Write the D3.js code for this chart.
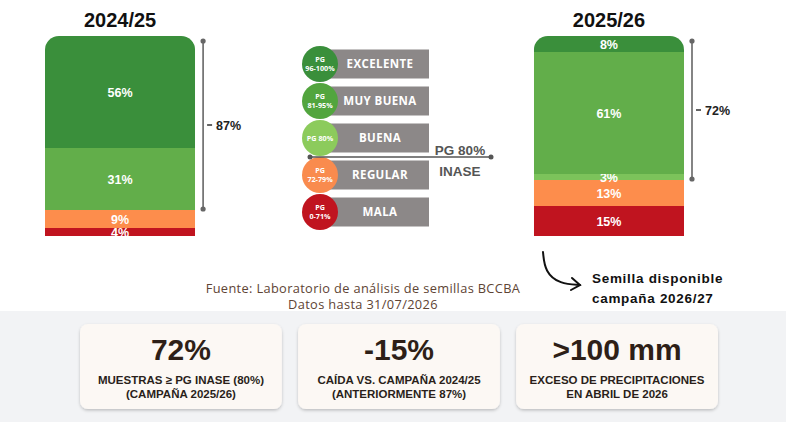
<!DOCTYPE html>
<html>
<head>
<meta charset="utf-8">
<script src="https://cdn.jsdelivr.net/npm/d3@7"></script>
<style>
  html, body { margin: 0; padding: 0; background: #fff; }
  svg { display: block; }
</style>
</head>
<body>
<div id="chart"></div>
<script>
// quality classes (top to bottom of each bar)
const categories = ['EXCELENTE', 'MUY BUENA', 'BUENA', 'REGULAR', 'MALA'];
const rangeLabels = [['PG', '96-100%'], ['PG', '81-95%'], ['PG 80%'], ['PG', '72-79%'], ['PG', '0-71%']];
const campaigns = ['2024/25', '2025/26'];
const values2425 = [56, 31, 0, 9, 4];
const values2526 = [8, 61, 3, 13, 15];
const aboveInase = [87, 72];   // share >= PG 80%
const kpiValues = ['72%', '-15%', '>100 mm'];
const kpiLines = [
  ['MUESTRAS ≥ PG INASE (80%)', '(CAMPAÑA 2025/26)'],
  ['CAÍDA VS. CAMPAÑA 2024/25', '(ANTERIORMENTE 87%)'],
  ['EXCESO DE PRECIPITACIONES', 'EN ABRIL DE 2026']
];
const sourceLines = ['Fuente: Laboratorio de análisis de semillas BCCBA', 'Datos hasta 31/07/2026'];
const noteLines = ['Semilla disponible', 'campaña 2026/27'];

const barColors = ['#3a8f3b', '#62ae4a', '#7cc35b', '#fd8d4c', '#c0141f'];
const dotColors = ['#3a8f3b', '#52a53e', '#8ccb5c', '#f98b4e', '#c0141f'];

const W = 786, H = 422;
const svg = d3.select('#chart').append('svg').attr('width', W).attr('height', H);

// bottom band
svg.append('rect').attr('x', 0).attr('y', 311).attr('width', W).attr('height', H - 311).attr('fill', '#f2f3f5');

const x = d3.scaleBand().domain(campaigns).range([45, 684]).paddingInner(0.693);
const y = d3.scaleLinear().domain([0, 100]).range([236, 36]);

const rows = campaigns.map((c, i) => {
  const vals = i === 0 ? values2425 : values2526;
  const r = { campaign: c };
  categories.forEach((k, j) => r[k] = vals[j]);
  return r;
});
// stack from the bottom: MALA first
const stack = d3.stack().keys(categories.slice().reverse())(rows);
const color = d3.scaleOrdinal().domain(categories).range(barColors);

const defs = svg.append('defs');
campaigns.forEach((c, i) => {
  defs.append('clipPath').attr('id', 'clip' + i)
    .append('rect').attr('x', x(c)).attr('y', y(100))
    .attr('width', x.bandwidth()).attr('height', y(0) - y(100) + 20).attr('rx', 14);
});

const bars = svg.append('g');
stack.forEach(layer => {
  layer.forEach((d, i) => {
    if (d[1] - d[0] <= 0) return;
    const c = campaigns[i];
    bars.append('rect')
      .attr('clip-path', 'url(#clip' + i + ')')
      .attr('x', x(c)).attr('width', x.bandwidth())
      .attr('y', y(d[1])).attr('height', y(d[0]) - y(d[1]))
      .attr('fill', color(layer.key));
    bars.append('text')
      .attr('x', x(c) + x.bandwidth() / 2)
      .attr('y', (y(d[0]) + y(d[1])) / 2)
      .attr('dy', '0.36em')
      .attr('text-anchor', 'middle')
      .attr('font-family', 'Liberation Sans, Arial, sans-serif')
      .attr('font-weight', 'bold').attr('font-size', 12.5)
      .attr('fill', '#fff')
      .text((d[1] - d[0]) + '%');
  });
});

// titles
svg.selectAll('.title').data(campaigns).enter().append('text')
  .attr('x', d => x(d) + x.bandwidth() / 2).attr('y', 27)
  .attr('text-anchor', 'middle')
  .attr('font-family', 'Liberation Sans, Arial, sans-serif')
  .attr('font-weight', 'bold').attr('font-size', 20).attr('fill', '#111')
  .text(d => d);

// brackets for share >= 80%
campaigns.forEach((c, i) => {
  const bx = x(c) + x.bandwidth() + 8;
  const y1 = y(100) + 5, y2 = y(100 - aboveInase[i]) - 1;
  const g = svg.append('g');
  g.append('line').attr('x1', bx).attr('x2', bx).attr('y1', y1).attr('y2', y2)
    .attr('stroke', '#666').attr('stroke-width', 1.6);
  [y1, y2].forEach(yy => g.append('circle').attr('cx', bx).attr('cy', yy).attr('r', 2.6).attr('fill', '#666'));
  const my = (y1 + y2) / 2;
  g.append('line').attr('x1', bx + 4).attr('x2', bx + 9).attr('y1', my).attr('y2', my)
    .attr('stroke', '#222').attr('stroke-width', 1.4);
  g.append('text').attr('x', bx + 13).attr('y', my).attr('dy', '0.36em')
    .attr('font-family', 'Liberation Sans, Arial, sans-serif')
    .attr('font-weight', 'bold').attr('font-size', 12.5).attr('fill', '#222')
    .text(aboveInase[i] + '%');
});

// legend
const ly = d3.scalePoint().domain(categories).range([64, 212]);
const leg = svg.append('g');
categories.forEach((k, j) => {
  const cy = ly(k);
  leg.append('rect').attr('x', 328).attr('y', cy - 14.5).attr('width', 101).attr('height', 29).attr('fill', '#8c8888');
  leg.append('text').attr('x', 380).attr('y', cy).attr('dy', '0.36em')
    .attr('text-anchor', 'middle')
    .attr('font-family', 'Open Sans, sans-serif').attr('font-weight', 'bold')
    .attr('font-size', 11.5).attr('letter-spacing', 0.4).attr('fill', '#fff')
    .text(k);
  leg.append('circle').attr('cx', 320).attr('cy', cy).attr('r', 18).attr('fill', dotColors[j]);
  const lines = rangeLabels[j];
  lines.forEach((t, n) => {
    leg.append('text').attr('x', 320)
      .attr('y', cy + (n - (lines.length - 1) / 2) * 9).attr('dy', '0.36em')
      .attr('text-anchor', 'middle')
      .attr('font-family', 'Open Sans, sans-serif').attr('font-weight', 'bold')
      .attr('font-size', 7.2).attr('fill', '#fff')
      .text(t);
  });
});

// INASE threshold line
const ty = (ly('BUENA') + ly('REGULAR')) / 2 + 0.5;
leg.append('line').attr('x1', 310).attr('x2', 491).attr('y1', ty).attr('y2', ty)
  .attr('stroke', '#555').attr('stroke-width', 1.6);
[310, 491].forEach(xx => leg.append('circle').attr('cx', xx).attr('cy', ty).attr('r', 2.5).attr('fill', '#555'));
['PG 80%', 'INASE'].forEach((t, n) => {
  leg.append('text').attr('x', 460).attr('y', ty - 7 + n * 21).attr('dy', '0.36em')
    .attr('text-anchor', 'middle')
    .attr('font-family', 'Liberation Sans, Arial, sans-serif').attr('font-weight', 'bold')
    .attr('font-size', 13.5).attr('fill', '#555')
    .text(t);
});

// source
sourceLines.forEach((t, n) => {
  svg.append('text').attr('x', 363).attr('y', 288 + n * 16.5).attr('dy', '0.36em')
    .attr('text-anchor', 'middle')
    .attr('font-family', 'Open Sans, sans-serif').attr('font-size', 12.8)
    .attr('letter-spacing', 0.35)
    .attr('fill', '#5e4434')
    .text(t);
});

// arrow + note
const arrow = svg.append('g').attr('fill', 'none').attr('stroke', '#111').attr('stroke-width', 2).attr('stroke-linecap', 'round');
arrow.append('path').attr('d', d3.line().curve(d3.curveBasis)([[543, 252], [545, 272], [560, 284], [580, 285]]));
arrow.append('path').attr('d', 'M572,278 L580,285 L571,290');
noteLines.forEach((t, n) => {
  svg.append('text').attr('x', 592).attr('y', 278 + n * 20).attr('dy', '0.36em')
    .attr('font-family', 'Liberation Sans, Arial, sans-serif').attr('font-weight', 'bold')
    .attr('font-size', 13.5).attr('letter-spacing', 0.7).attr('fill', '#111')
    .text(t);
});

// KPI cards
const cx = d3.scaleBand().domain(d3.range(kpiValues.length)).range([80, 718]).paddingInner(0.074);
defs.append('filter').attr('id', 'shadow').attr('x', -0.1).attr('y', -0.1).attr('width', 1.2).attr('height', 1.3)
  .append('feDropShadow').attr('dx', 0).attr('dy', 1.5).attr('stdDeviation', 1.8)
  .attr('flood-color', '#000').attr('flood-opacity', 0.22);
kpiValues.forEach((v, i) => {
  const g = svg.append('g').attr('transform', `translate(${cx(i)},324)`);
  const w = cx.bandwidth();
  g.append('rect').attr('width', w).attr('height', 85).attr('rx', 8)
    .attr('fill', '#fcf8f4').attr('filter', 'url(#shadow)');
  g.append('text').attr('x', w / 2).attr('y', 36)
    .attr('text-anchor', 'middle')
    .attr('font-family', 'Liberation Sans, Arial, sans-serif').attr('font-weight', 'bold')
    .attr('font-size', 30).attr('fill', '#2e1f17')
    .text(v);
  kpiLines[i].forEach((t, n) => {
    g.append('text').attr('x', w / 2).attr('y', 60 + n * 14)
      .attr('text-anchor', 'middle')
      .attr('font-family', 'Liberation Sans, Arial, sans-serif').attr('font-weight', 'bold')
      .attr('font-size', 11.5).attr('fill', '#2a1f1a')
      .text(t);
  });
});
</script>
</body>
</html>
